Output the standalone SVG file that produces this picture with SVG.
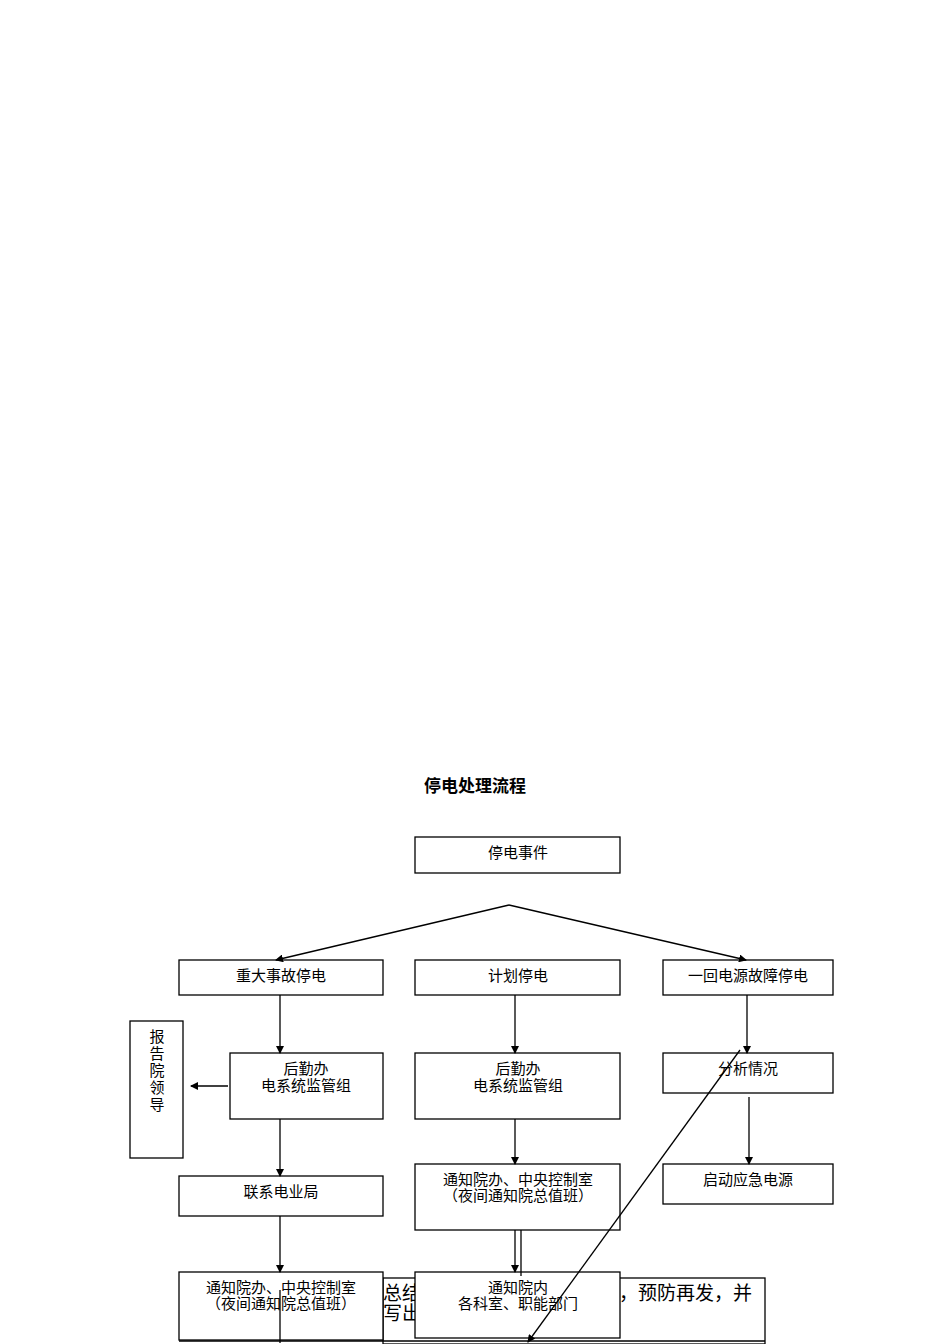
<svg xmlns="http://www.w3.org/2000/svg" width="950" height="1344" viewBox="0 0 950 1344">
<style>
rect{fill:#fff;stroke:#000;stroke-width:1.3}
text{font-family:"Noto Sans CJK SC","Liberation Serif",serif;font-size:15px;text-anchor:middle;fill:#000}
.c line,.c polyline{stroke:#000;stroke-width:1.3;fill:none}
</style>
<defs><marker id="a" markerWidth="8" markerHeight="8" refX="7" refY="4" orient="auto" markerUnits="userSpaceOnUse"><path d="M0,0L8,4L0,8z"/></marker></defs>
<rect width="950" height="1344" style="stroke:none"/>
<text x="475" y="792" style="font-size:17px;font-weight:bold">停电处理流程</text>
<g id="summary"><rect x="383" y="1278" width="382" height="66"/>
<text x="383" y="1300" style="font-size:19px;text-anchor:start">总结</text>
<text x="383" y="1320" style="font-size:19px;text-anchor:start">写出</text>
<text x="752" y="1300" style="font-size:19px;text-anchor:end">，预防再发，并</text></g>
<g id="n0"><rect x="415" y="837" width="205" height="36"/><text x="518" y="858">停电事件</text></g>
<g id="n1"><rect x="179" y="960" width="204" height="35"/><text x="281" y="981">重大事故停电</text></g>
<g id="n2"><rect x="415" y="960" width="205" height="35"/><text x="518" y="981">计划停电</text></g>
<g id="n3"><rect x="663" y="960" width="170" height="35"/><text x="748" y="981">一回电源故障停电</text></g>
<g id="n4"><rect x="130" y="1021" width="53" height="137"/>
<text x="157" y="1042">报</text><text x="157" y="1059">告</text><text x="157" y="1076">院</text><text x="157" y="1093">领</text><text x="157" y="1110">导</text></g>
<g id="n5"><rect x="230" y="1053" width="153" height="66"/><text x="306" y="1074">后勤办</text><text x="306" y="1091">电系统监管组</text></g>
<g id="n6"><rect x="415" y="1053" width="205" height="66"/><text x="518" y="1074">后勤办</text><text x="518" y="1091">电系统监管组</text></g>
<g id="n7"><rect x="663" y="1053" width="170" height="40"/><text x="748" y="1074">分析情况</text></g>
<g id="n8"><rect x="179" y="1176" width="204" height="40"/><text x="281" y="1197">联系电业局</text></g>
<g id="n9"><rect x="415" y="1164" width="205" height="66"/><text x="518" y="1185">通知院办、中央控制室</text><text x="518" y="1201">（夜间通知院总值班）</text></g>
<g id="n10"><rect x="663" y="1164" width="170" height="40"/><text x="748" y="1185">启动应急电源</text></g>
<g id="n11"><rect x="179" y="1272" width="204" height="68"/><text x="281" y="1293">通知院办、中央控制室</text><text x="281" y="1309">（夜间通知院总值班）</text></g>
<g id="n12"><rect x="415" y="1272" width="205" height="66"/><text x="518" y="1293">通知院内</text><text x="518" y="1309">各科室、职能部门</text></g>
<g class="c">
<polyline points="276,960 509,905 746,960" style="stroke:none"/>
<line x1="509" y1="905" x2="276" y2="960" marker-end="url(#a)"/>
<line x1="509" y1="905" x2="746" y2="960" marker-end="url(#a)"/>
<line x1="280" y1="995" x2="280" y2="1053" marker-end="url(#a)"/>
<line x1="515" y1="995" x2="515" y2="1053" marker-end="url(#a)"/>
<line x1="747" y1="995" x2="747" y2="1053" marker-end="url(#a)"/>
<line x1="228" y1="1086" x2="191" y2="1086" marker-end="url(#a)"/>
<line x1="280" y1="1119" x2="280" y2="1176" marker-end="url(#a)"/>
<line x1="515" y1="1119" x2="515" y2="1164" marker-end="url(#a)"/>
<line x1="749" y1="1097" x2="749" y2="1164" marker-end="url(#a)"/>
<line x1="280" y1="1216" x2="280" y2="1272" marker-end="url(#a)"/>
<line x1="515" y1="1230" x2="515" y2="1272" marker-end="url(#a)"/>
<line x1="521" y1="1230" x2="521" y2="1276"/>
<line x1="280" y1="1290" x2="280" y2="1343"/>
<line x1="740" y1="1050" x2="528" y2="1342" marker-end="url(#a)"/>
<line x1="179" y1="1341" x2="765" y2="1341"/>
</g>
</svg>
